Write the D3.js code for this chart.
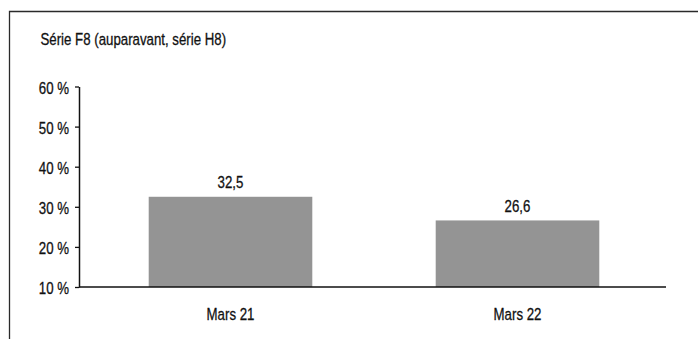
<!DOCTYPE html>
<html>
<head>
<meta charset="utf-8">
<script src="https://cdn.jsdelivr.net/npm/d3@7"></script>
<style>
  body { margin: 0; background: #fff; }
  text { font-family: "Liberation Sans", Arial, sans-serif; fill: #111; stroke: #111; stroke-width: 0.3px; }
</style>
</head>
<body>
<svg width="698" height="339"></svg>
<script>
// data
const categories = ['Mars 21', 'Mars 22'];
const values = [32.5, 26.6];
const yTicks = [10, 20, 30, 40, 50, 60];
const title = 'Série F8 (auparavant, série H8)';

const K = 0.78; // horizontal squeeze to mimic the condensed face
const FS = '17px';

const svg = d3.select('svg');

// squeeze text horizontally around its anchor point
function squeeze(sel) {
  sel.each(function () {
    const t = d3.select(this);
    const x = +t.attr('x') || 0;
    const y = +t.attr('y') || 0;
    t.attr('x', 0).attr('y', 0)
      .attr('transform', 'translate(' + x + ',' + y + ') scale(' + K + ',1)');
  });
}

// frame (top + left edges, rest is cut off)
svg.append('path')
  .attr('d', 'M9.5,339 V11.5 H698')
  .attr('fill', 'none')
  .attr('stroke', '#2a2a2a')
  .attr('stroke-width', 1.3);

// title
svg.append('text')
  .attr('x', 40.5)
  .attr('y', 45)
  .style('font-size', FS)
  .text(title)
  .call(squeeze);

// scales
const y = d3.scaleLinear().domain([10, 60]).range([287, 86.5]);
const x = d3.scaleBand().domain(categories).range([87, 661]).paddingInner(0.43).paddingOuter(0.215);

// y axis
const yAxis = svg.append('g')
  .attr('transform', 'translate(79,0)')
  .call(d3.axisLeft(y).tickValues(yTicks).tickSize(4).tickSizeOuter(0).tickPadding(6)
    .tickFormat(d => d + ' %'));
yAxis.select('.domain').attr('stroke', '#111').attr('stroke-width', 1.5);
yAxis.selectAll('.tick line').attr('stroke', '#111').attr('stroke-width', 1.3);
yAxis.selectAll('.tick text')
  .style('font-size', FS)
  .attr('fill', '#111')
  .attr('dy', null)
  .attr('y', 6.5)
  .call(squeeze);

// bars
svg.append('g')
  .selectAll('rect')
  .data(values)
  .enter()
  .append('rect')
  .attr('x', (d, i) => x(categories[i]))
  .attr('y', d => y(d))
  .attr('width', x.bandwidth())
  .attr('height', d => y(10) - y(d))
  .attr('fill', '#949494');

// value labels
svg.append('g')
  .selectAll('text')
  .data(values)
  .enter()
  .append('text')
  .attr('x', (d, i) => x(categories[i]) + x.bandwidth() / 2)
  .attr('y', d => y(d) - 8.5)
  .attr('text-anchor', 'middle')
  .style('font-size', FS)
  .text(d => String(d).replace('.', ','))
  .call(squeeze);

// x axis line
svg.append('line')
  .attr('x1', 79).attr('x2', 666)
  .attr('y1', y(10)).attr('y2', y(10))
  .attr('stroke', '#111')
  .attr('stroke-width', 1.5);

// x labels
svg.append('g')
  .selectAll('text')
  .data(categories)
  .enter()
  .append('text')
  .attr('x', d => x(d) + x.bandwidth() / 2)
  .attr('y', 320)
  .attr('text-anchor', 'middle')
  .style('font-size', FS)
  .text(d => d)
  .call(squeeze);
</script>
</body>
</html>
